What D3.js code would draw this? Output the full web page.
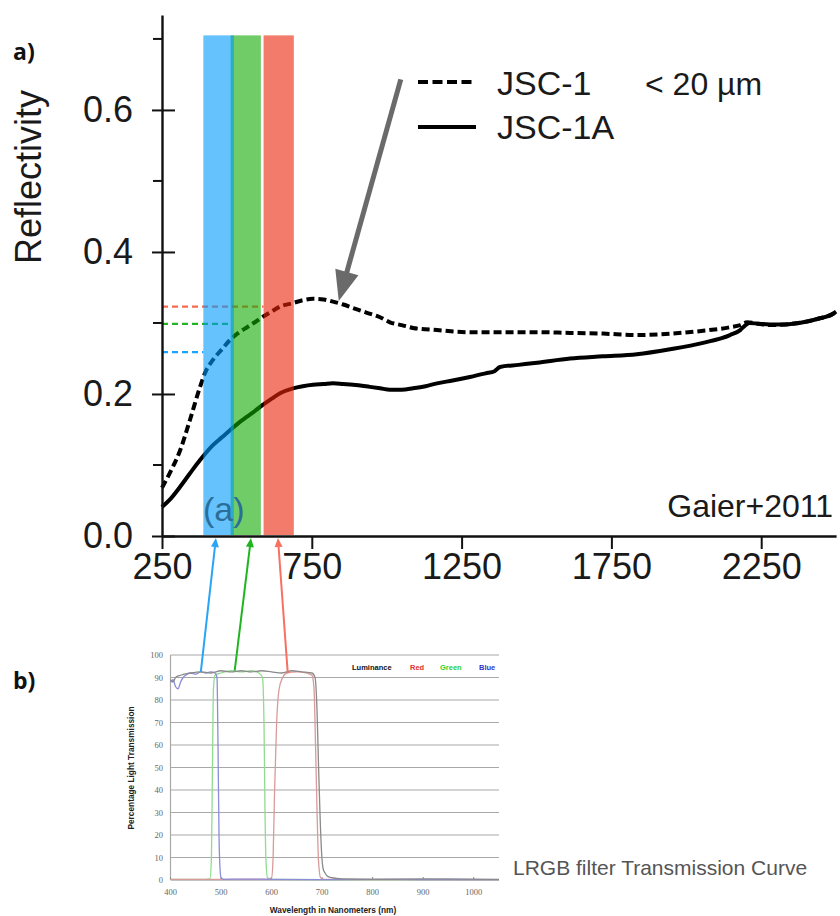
<!DOCTYPE html>
<html><head><meta charset="utf-8">
<script src="https://cdn.jsdelivr.net/npm/d3@7"></script>
<style>body{margin:0;background:#fff}svg{display:block}</style>
</head><body>
<svg id="c" width="840" height="916"></svg>
<script>
// ---------- Panel a data ----------
const xTicks = [250, 750, 1250, 1750, 2250];
const yTicks = [0, 0.2, 0.4, 0.6];
const yMinorTicks = [0.1, 0.3, 0.5, 0.7];

const jsc1Nm = [250,280,310,343,377,394,420,450,477,505,534,560,584,615,644,687,720,754,790,821,855,888,930,978,1011,1050,1088,1168,1278,1388,1502,1612,1722,1835,1946,2056,2146,2180,2203,2240,2279,2330,2390,2440,2490,2500];
const jsc1Val = [0.068,0.092,0.120,0.163,0.210,0.230,0.248,0.263,0.276,0.286,0.294,0.301,0.308,0.316,0.323,0.328,0.332,0.334,0.333,0.330,0.326,0.321,0.315,0.308,0.301,0.297,0.293,0.290,0.287,0.287,0.287,0.286,0.285,0.283,0.285,0.289,0.294,0.297,0.301,0.299,0.297,0.298,0.301,0.306,0.313,0.316];

const jsc1aNm = [250,280,310,343,377,420,450,477,505,534,560,584,615,644,687,720,754,790,821,855,888,944,978,1011,1050,1088,1130,1168,1220,1278,1330,1360,1378,1440,1502,1612,1722,1835,1946,2056,2146,2180,2195,2210,2240,2279,2330,2390,2440,2490,2500];
const jsc1aVal = [0.041,0.053,0.069,0.088,0.107,0.128,0.139,0.149,0.159,0.168,0.176,0.184,0.193,0.201,0.208,0.211,0.213,0.214,0.215,0.214,0.213,0.210,0.208,0.206,0.206,0.208,0.211,0.215,0.219,0.224,0.229,0.232,0.238,0.241,0.244,0.250,0.253,0.256,0.263,0.272,0.283,0.290,0.296,0.300,0.299,0.298,0.298,0.301,0.306,0.313,0.316];

const bandNames = ["blue","green","red"];
const bandStart = [388, 479, 589];
const bandEnd = [490, 580, 690];
const bandColors = ["#0099fa", "#11aa00", "#e92308"];
const refLevel = [0.259, 0.2986, 0.323];
const refColors = ["#1aa3ff", "#22b422", "#f86a50"];

// ---------- Panel b data ----------
const bTicksX = [400,500,600,700,800,900,1000];
const bTicksY = [0,10,20,30,40,50,60,70,80,90,100];

const lumNm  = [400,405,410,420,440,460,480,500,520,540,560,580,600,620,640,660,680,686,690,693,696,699,702,706,712,720,740,800,900,1050];
const lumVal = [89,88,90,91,92,92.5,92,93,92.5,93,92.5,93,92.5,92,93,92.5,92,90,75,50,28,12,5,3,1.5,1,0.5,0.3,0.5,0.3];
const blueNm  = [400,405,410,415,420,425,430,440,450,460,470,480,488,492,494,496,498,500,505,550,600,700,800,900,1050];
const blueVal = [88,89,86,85,88,90,91,92,91.5,92.5,92,92.5,92,90,60,20,5,1,0.3,0.4,0.3,0.2,0.3,0.2,0.2];
const greenNm  = [400,470,478,481,483,485,488,500,520,540,560,575,582,585,587,589,592,600,700,1050];
const greenVal = [0.3,0.3,0.5,10,50,85,91,92,93,92.5,93,92,90,70,30,8,1,0.3,0.2,0.2];
const redNm  = [400,590,600,603,606,610,615,622,630,650,670,680,684,687,690,693,697,705,1050];
const redVal = [0.3,0.3,1,10,40,70,85,90,92,92.5,92,91,85,60,30,8,1,0.3,0.2];

const legendB = ["Luminance","Red","Green","Blue"];
const legendBColors = ["#111","#e03030","#2cd02c","#3434c8"];

const svg = d3.select("#c");
const F = "'Liberation Sans', Arial, sans-serif";

// ---------- Panel a ----------
const x = d3.scaleLinear().domain([250, 2500]).range([162, 836.1]);
const y = d3.scaleLinear().domain([0, 0.7337]).range([536, 15]);

const line = d3.line().x(d => x(d[0])).y(d => y(d[1])).curve(d3.curveMonotoneX);
const jsc1 = jsc1Nm.map((n,i)=>[n, jsc1Val[i]]);
const jsc1a = jsc1aNm.map((n,i)=>[n, jsc1aVal[i]]);

// reference dashed lines
refLevel.forEach((v,i)=>{
  svg.append("line").attr("x1", x(250)).attr("x2", x(bandStart[i]))
    .attr("y1", y(v)).attr("y2", y(v))
    .attr("stroke", refColors[i]).attr("stroke-width", 2.2).attr("stroke-dasharray","6,4");
});

svg.append("path").attr("d", line(jsc1)).attr("fill","none").attr("stroke","#000")
  .attr("stroke-width",4).attr("stroke-dasharray","8,4");
svg.append("path").attr("d", line(jsc1a)).attr("fill","none").attr("stroke","#000")
  .attr("stroke-width",4);

// bands (drawn over curves)
const bandOrder = [1,0,2];
bandOrder.forEach(i=>{
  svg.append("rect").attr("x", x(bandStart[i])).attr("width", x(bandEnd[i]) - x(bandStart[i]))
    .attr("y", y(0.705)).attr("height", y(0) - y(0.705) - 1)
    .attr("fill", bandColors[i]).attr("fill-opacity", 0.6);
});

svg.append("text").attr("x", 203).attr("y", 521).attr("font-family",F).attr("font-size",34)
  .attr("fill","#2a6e9a").text("(a)");

// axes
const xAxis = d3.axisBottom(x).tickValues(xTicks).tickSize(13).tickSizeOuter(0).tickFormat(d3.format("d"));
const gx = svg.append("g").attr("transform","translate(0,536)").call(xAxis);
gx.select(".domain").attr("stroke","#111").attr("stroke-width",2.4);
gx.selectAll(".tick line").attr("stroke","#111").attr("stroke-width",2);
gx.selectAll(".tick text").attr("font-family",F).attr("font-size",36).attr("fill","#1a1a1a").attr("y",17).attr("dy","0.71em");

const yAxis = d3.axisLeft(y).tickValues(yTicks).tickSize(10).tickSizeOuter(0).tickFormat(d3.format(".1f"));
const gy = svg.append("g").attr("transform","translate(162,0)").call(yAxis);
gy.select(".domain").attr("stroke","#111").attr("stroke-width",2.4);
gy.selectAll(".tick line").attr("stroke","#111").attr("stroke-width",2).attr("x1",13);
gy.selectAll(".tick text").attr("font-family",F).attr("font-size",36).attr("fill","#1a1a1a").attr("x",-29);
gy.selectAll(".minor").data(yMinorTicks).enter().append("line")
  .attr("x1",-9).attr("x2",0).attr("y1",d=>y(d)).attr("y2",d=>y(d))
  .attr("stroke","#111").attr("stroke-width",2);

svg.append("text").attr("transform","translate(41,177) rotate(-90)").attr("text-anchor","middle")
  .attr("font-family",F).attr("font-size",36).attr("fill","#1a1a1a").text("Reflectivity");

svg.append("text").attr("x",13).attr("y",60).attr("font-family","'Open Sans', sans-serif").attr("font-weight","bold")
  .attr("font-size",23).attr("fill","#111").text("a)");

svg.append("text").attr("x",833).attr("y",517).attr("text-anchor","end").attr("font-family",F)
  .attr("font-size",32).attr("fill","#1a1a1a").text("Gaier+2011");

// legend
svg.append("line").attr("x1",418).attr("x2",476).attr("y1",82).attr("y2",82)
  .attr("stroke","#000").attr("stroke-width",4).attr("stroke-dasharray","10,4.5");
svg.append("line").attr("x1",418).attr("x2",476).attr("y1",127).attr("y2",127)
  .attr("stroke","#000").attr("stroke-width",4);
svg.append("text").attr("x",497).attr("y",95).attr("font-family",F).attr("font-size",34).attr("fill","#1a1a1a").text("JSC-1");
svg.append("text").attr("x",645).attr("y",95).attr("font-family",F).attr("font-size",32).attr("fill","#1a1a1a").text("< 20 µm");
svg.append("text").attr("x",497).attr("y",139).attr("font-family",F).attr("font-size",34).attr("fill","#1a1a1a").text("JSC-1A");

// gray arrow
(function(){
  const tx = x(840), ty = y(0.331);
  const sx = x(1047), sy = y(0.643);
  const dx = tx - sx, dy = ty - sy, L = Math.hypot(dx,dy);
  const ux = dx/L, uy = dy/L, px = -uy, py = ux;
  const hl = 30, hw = 12;
  const bx = tx - ux*hl, by = ty - uy*hl;
  svg.append("line").attr("x1",sx).attr("y1",sy).attr("x2",bx+ux*2).attr("y2",by+uy*2)
    .attr("stroke","#6a6a6a").attr("stroke-width",5);
  svg.append("path").attr("d",`M${tx},${ty}L${bx+px*hw},${by+py*hw}L${bx-px*hw},${by-py*hw}Z`).attr("fill","#6a6a6a");
})();

// ---------- Panel b ----------
const xb = d3.scaleLinear().domain([400, 1050]).range([170.5, 499]);
const yb = d3.scaleLinear().domain([0, 100]).range([880, 655]);
const FS = "'Liberation Serif', 'DejaVu Serif', serif";

svg.selectAll(".gridb").data(bTicksY).enter().append("line")
  .attr("x1", xb(400)).attr("x2", xb(1050)).attr("y1", d=>yb(d)).attr("y2", d=>yb(d))
  .attr("stroke", d=> d===0 ? "#888" : "#a8a8a8").attr("stroke-width",1.2);
svg.append("line").attr("x1",xb(400)).attr("x2",xb(400)).attr("y1",yb(0)).attr("y2",yb(100))
  .attr("stroke","#a8a8a8").attr("stroke-width",1.2);

svg.selectAll(".ylb").data(bTicksY).enter().append("text")
  .attr("x",163).attr("y",d=>yb(d)+3).attr("text-anchor","end").attr("font-family",FS)
  .attr("font-size",8.5).attr("fill","#666").text(d=>d);
svg.selectAll(".xlb").data(bTicksX).enter().append("text")
  .attr("x",d=>xb(d)).attr("y",895).attr("text-anchor","middle").attr("font-family",FS)
  .attr("font-size",8.5).attr("fill","#666").text(d=>d);
svg.selectAll(".xtb").data(bTicksX).enter().append("line")
  .attr("x1",d=>xb(d)).attr("x2",d=>xb(d)).attr("y1",880).attr("y2",877)
  .attr("stroke","#888").attr("stroke-width",1);

svg.append("text").attr("x",333).attr("y",913).attr("text-anchor","middle").attr("font-family",F)
  .attr("font-weight","bold").attr("font-size",8.3).attr("fill","#222").text("Wavelength in Nanometers (nm)");
svg.append("text").attr("transform","translate(134,768) rotate(-90)").attr("text-anchor","middle")
  .attr("font-family",F).attr("font-weight","bold").attr("font-size",8.3).attr("fill","#222")
  .text("Percentage Light Transmission");

const lineB = d3.line().x(d=>xb(d[0])).y(d=>yb(d[1])).curve(d3.curveMonotoneX);
const curvesB = [
  [greenNm, greenVal, "#8fdc8f"],
  [redNm, redVal, "#d99a9a"],
  [blueNm, blueVal, "#8c8cd8"],
  [lumNm, lumVal, "#8a8a8a"]
];
curvesB.forEach(c=>{
  svg.append("path").attr("d", lineB(c[0].map((n,i)=>[n,c[1][i]])))
    .attr("fill","none").attr("stroke",c[2]).attr("stroke-width",1.3);
});

// legend b
const legX = [352, 410, 440, 479];
legendB.forEach((t,i)=>{
  svg.append("text").attr("x",legX[i]).attr("y",670).attr("font-family",F).attr("font-weight","bold")
    .attr("font-size",7.5).attr("fill",legendBColors[i]).text(t);
});

svg.append("text").attr("x",513).attr("y",875).attr("font-family",F).attr("font-size",21)
  .attr("fill","#555").text("LRGB filter Transmission Curve");

svg.append("text").attr("x",13).attr("y",689).attr("font-family","'Open Sans', sans-serif").attr("font-weight","bold")
  .attr("font-size",23).attr("fill","#111").text("b)");

// connecting arrows from panel b to panel a
const conn = [
  [460, 92.5, 430, "#2aa4f4"],
  [527, 93, 547, "#1fb51f"],
  [632, 92, 637, "#f87060"]
];
conn.forEach(c=>{
  const sx = xb(c[0]), sy = yb(c[1]), tx = x(c[2]), ty = y(0) + 2;
  const dx = tx - sx, dy = ty - sy, L = Math.hypot(dx,dy);
  const ux = dx/L, uy = dy/L, px = -uy, py = ux;
  const hl = 9, hw = 4;
  const bx = tx - ux*hl, by = ty - uy*hl;
  svg.append("line").attr("x1",sx).attr("y1",sy).attr("x2",bx).attr("y2",by)
    .attr("stroke",c[3]).attr("stroke-width",2);
  svg.append("path").attr("d",`M${tx},${ty}L${bx+px*hw},${by+py*hw}L${bx-px*hw},${by-py*hw}Z`).attr("fill",c[3]);
});
</script>
</body></html>
